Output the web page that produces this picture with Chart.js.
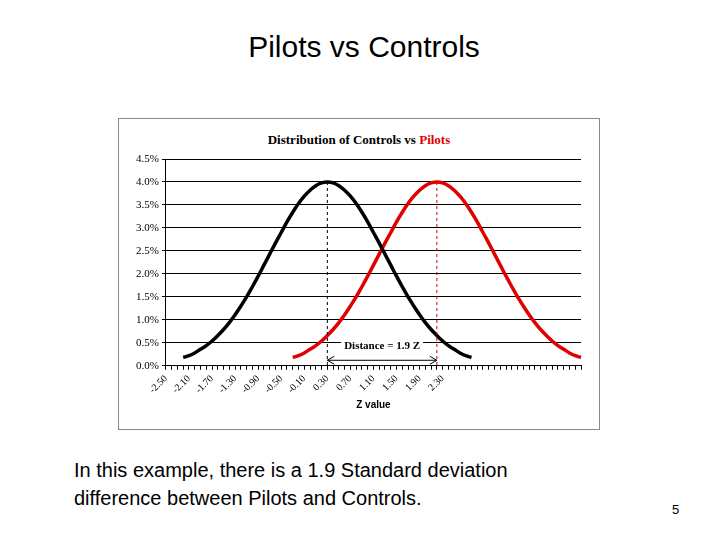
<!DOCTYPE html>
<html>
<head>
<meta charset="utf-8">
<script src="https://cdn.jsdelivr.net/npm/chart.js@4"></script>
<style>
body{margin:0;width:728px;height:546px;background:#fff;position:relative;font-family:"Liberation Sans",Arial,sans-serif;overflow:hidden}
#head{position:absolute;top:30px;left:0;width:728px;text-align:center;font-size:30px}
#box{position:absolute;left:118px;top:118px;width:482px;height:312px;border:1px solid #888;box-sizing:border-box}
#ctitle{position:absolute;top:13px;left:0;width:100%;text-align:center;font:bold 13px "Liberation Serif",serif}
#wrap{position:absolute;left:0;top:30px;width:480px;height:280px}
#foot{position:absolute;left:74px;top:456px;font-size:20px;line-height:28px}
#pg{position:absolute;left:672px;top:502px;font-size:13px}
</style>
</head>
<body>
<div id="head">Pilots vs Controls</div>
<div id="box">
  <div id="ctitle">Distribution of Controls vs <span style="color:#e00000">Pilots</span></div>
  <div id="wrap"><canvas id="c"></canvas></div>
</div>
<div id="foot">In this example, there is a 1.9 Standard deviation<br>difference between Pilots and Controls.</div>
<div id="pg">5</div>
<script>
// z values -2.5 .. 4.7
const zLabels = [];
for (let i = -25; i <= 47; i++) zLabels.push((i / 10).toFixed(2));

// curve values (%)
const bell = [0.18,0.22,0.28,0.36,0.44,0.54,0.66,0.79,0.94,1.11,1.30,1.50,1.72,1.95,2.19,2.43,2.67,2.90,3.13,3.34,3.53,3.69,3.82,3.92,3.98,4.00,
  3.98,3.92,3.82,3.69,3.53,3.34,3.13,2.90,2.67,2.43,2.19,1.95,1.72,1.50,1.30,1.11,0.94,0.79,0.66,0.54,0.44,0.36,0.28,0.22,0.18];
const controls = Array(3).fill(null).concat(bell).concat(Array(19).fill(null));
const pilots = Array(22).fill(null).concat(bell);
const controlsPeak = '0.30';
const pilotsPeak = '2.20';

const extras = {
  id: 'extras',
  afterDatasetsDraw(chart) {
    const ctx = chart.ctx, x = chart.scales.x, y = chart.scales.y;
    const x1 = x.getPixelForValue(zLabels.indexOf(controlsPeak));
    const x2 = x.getPixelForValue(zLabels.indexOf(pilotsPeak));
    ctx.save();
    ctx.setLineDash([3, 3]);
    ctx.lineWidth = 1;
    ctx.strokeStyle = '#000';
    ctx.beginPath(); ctx.moveTo(x1, y.getPixelForValue(4)); ctx.lineTo(x1, y.bottom); ctx.stroke();
    ctx.strokeStyle = '#c00';
    ctx.beginPath(); ctx.moveTo(x2, y.getPixelForValue(4)); ctx.lineTo(x2, y.bottom); ctx.stroke();
    ctx.setLineDash([]);
    // label + arrow
    const ya = y.getPixelForValue(0.12);
    ctx.font = 'bold 11px "Liberation Serif", serif';
    const txt = 'Distance = 1.9 Z';
    const tw = ctx.measureText(txt).width;
    const cx = (x1 + x2) / 2;
    ctx.fillStyle = '#fff';
    ctx.fillRect(cx - tw / 2 - 3, ya - 22, tw + 6, 14);
    ctx.fillStyle = '#000';
    ctx.textAlign = 'center';
    ctx.fillText(txt, cx, ya - 11);
    ctx.strokeStyle = '#000';
    ctx.beginPath(); ctx.moveTo(x1, ya); ctx.lineTo(x2, ya); ctx.stroke();
    ctx.beginPath();
    ctx.moveTo(x1 + 7, ya - 4); ctx.lineTo(x1, ya); ctx.lineTo(x1 + 7, ya + 4);
    ctx.moveTo(x2 - 7, ya - 4); ctx.lineTo(x2, ya); ctx.lineTo(x2 - 7, ya + 4);
    ctx.stroke();
    ctx.restore();
  }
};

new Chart(document.getElementById('c'), {
  type: 'line',
  data: {
    labels: zLabels,
    datasets: [
      {label: 'Controls', data: controls, borderColor: '#000', borderWidth: 3.5, pointRadius: 0, tension: 0.4, fill: false},
      {label: 'Pilots', data: pilots, borderColor: '#e00000', borderWidth: 3.5, pointRadius: 0, tension: 0.4, fill: false}
    ]
  },
  options: {
    responsive: true, maintainAspectRatio: false, animation: false,
    layout: {padding: {left: 14, right: 18, top: 10, bottom: 14}},
    plugins: {legend: {display: false}, tooltip: {enabled: false}},
    scales: {
      x: {
        offset: false,
        grid: {drawOnChartArea: false, tickLength: 4, color: '#000'},
        border: {color: '#000'},
        ticks: {
          autoSkip: false, maxRotation: 45, minRotation: 45, color: '#000',
          font: {family: '"Liberation Serif", serif', size: 10},
          callback: (v, i) => (i % 4 === 0 && i <= 48) ? zLabels[i] : ''
        },
        title: {display: true, text: 'Z value', color: '#000', font: {family: '"Liberation Sans", Arial', size: 10, weight: 'bold'}, padding: {top: 0}}
      },
      y: {
        min: 0, max: 4.5,
        grid: {color: '#000', tickLength: 4},
        border: {color: '#000'},
        ticks: {stepSize: 0.5, color: '#000', font: {family: '"Liberation Serif", serif', size: 11},
          callback: v => v.toFixed(1) + '%'}
      }
    }
  },
  plugins: [extras]
});
</script>
</body>
</html>
